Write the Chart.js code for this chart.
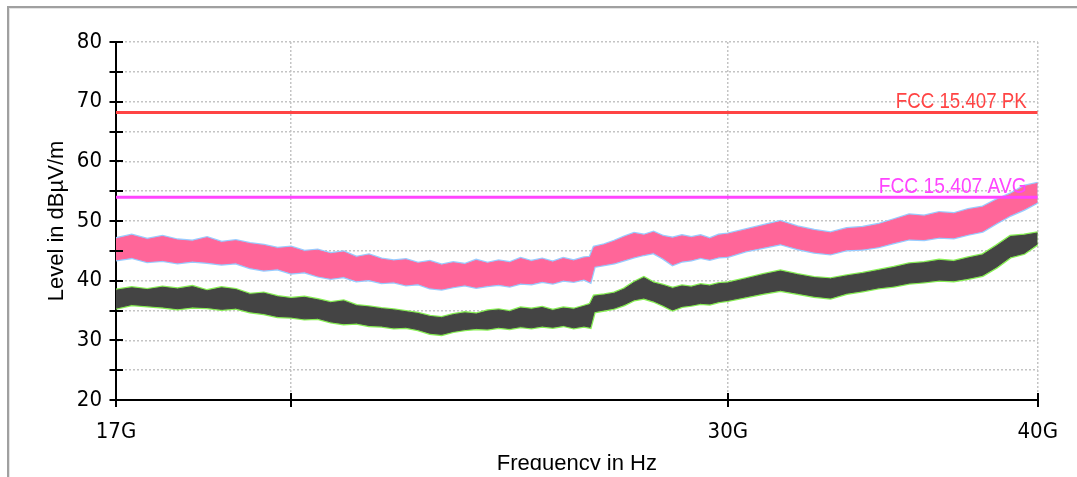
<!DOCTYPE html>
<html>
<head>
<meta charset="utf-8">
<script src="https://cdn.jsdelivr.net/npm/chart.js@4.4.1/dist/chart.umd.min.js"></script>
<style>
  html, body { margin: 0; padding: 0; background: #fff; }
  #wrap { width: 1077px; height: 477px; }
</style>
</head>
<body>
<div id="wrap"><canvas id="emiChart" width="1077" height="477"></canvas></div>
<script>
// frequency points in GHz
const freqGHz = [
  17.00, 17.25, 17.50, 17.75, 18.00, 18.25, 18.50, 18.75, 19.00, 19.25,
  19.50, 19.75, 20.00, 20.25, 20.50, 20.75, 21.00, 21.25, 21.50, 21.75,
  22.00, 22.25, 22.50, 22.75, 23.00, 23.25, 23.50, 23.75, 24.00, 24.25,
  24.50, 24.75, 25.00, 25.25, 25.50, 25.75, 26.00, 26.25, 26.40, 26.50,
  26.75, 27.00, 27.25, 27.50, 27.75, 28.00, 28.25, 28.50, 28.75, 29.00,
  29.25, 29.50, 29.75, 30.00, 30.5, 31.0, 31.5, 32.0, 32.5, 33.0,
  33.5, 34.0, 34.5, 35.0, 35.5, 36.0, 36.5, 37.0, 37.5, 38.0,
  38.5, 39.0, 39.5, 40.0
];

// peak trace, upper / lower edge of the noise band (dBuV/m)
const peakHigh = [
  47.0, 47.6, 46.9, 47.4, 46.8, 46.6, 47.2, 46.4, 46.7, 46.2,
  45.9, 45.4, 45.6, 44.9, 45.1, 44.5, 44.8, 43.9, 44.3, 43.6,
  43.3, 43.5, 42.9, 43.2, 42.6, 43.0, 42.7, 43.4, 42.9, 43.3,
  43.0, 43.7, 43.2, 43.6, 43.1, 43.7, 43.3, 43.8, 43.9, 45.6,
  46.0, 46.6, 47.3, 47.9, 47.6, 48.1, 47.4, 47.1, 47.5, 47.2,
  47.5, 47.0, 47.6, 47.8, 48.5, 49.2, 49.9, 49.0, 48.4, 48.0,
  48.7, 48.9, 49.4, 50.2, 51.0, 50.8, 51.4, 51.2, 51.9, 52.3,
  53.5, 54.5, 55.8, 56.3
];
const peakLow = [
  43.5, 43.9, 43.2, 43.4, 43.0, 43.3, 43.1, 42.8, 43.0, 42.2,
  41.8, 42.0, 41.3, 41.5, 40.8, 40.4, 40.7, 40.0, 40.2, 39.7,
  39.8, 39.3, 39.5, 38.8, 38.6, 39.0, 39.3, 38.9, 39.2, 39.4,
  39.1, 39.6, 39.5, 39.9, 39.6, 40.1, 39.9, 40.3, 39.8, 42.4,
  42.7, 43.0, 43.5, 44.0, 44.4, 44.7, 43.8, 42.7, 43.3, 43.5,
  43.9, 43.6, 44.0, 44.1, 45.0, 45.6, 46.2, 45.4, 44.8, 44.5,
  45.2, 45.3, 45.7, 46.4, 47.0, 46.9, 47.3, 47.2, 47.8, 48.3,
  49.7, 51.0, 52.0, 53.2
];

// average trace, upper / lower edge
const avgHigh = [
  38.4, 38.8, 38.5, 38.9, 38.6, 39.0, 38.3, 38.8, 38.5, 37.7,
  37.9, 37.3, 37.0, 37.2, 36.8, 36.3, 36.6, 35.8, 35.6, 35.3,
  35.1, 34.8, 34.5, 34.0, 33.8, 34.3, 34.6, 34.4, 34.9, 35.1,
  34.8, 35.4, 35.2, 35.5, 35.0, 35.4, 35.2, 35.7, 36.0, 37.4,
  37.6, 37.9, 38.6, 39.7, 40.5, 39.6, 39.2, 38.7, 39.1, 38.9,
  39.3, 39.1, 39.5, 39.6, 40.3, 41.0, 41.6, 41.0, 40.5, 40.3,
  40.8, 41.2, 41.7, 42.2, 42.8, 43.0, 43.4, 43.2, 43.8, 44.3,
  45.8, 47.4, 47.6, 48.0
];
const avgLow = [
  35.4, 36.0, 35.8, 35.6, 35.3, 35.6, 35.5, 35.2, 35.4, 34.8,
  34.5, 34.0, 33.9, 33.6, 33.7, 33.1, 32.8, 32.9, 32.5, 32.4,
  32.1, 32.2, 31.8, 31.2, 31.0, 31.5, 31.8, 32.0, 31.9, 32.2,
  32.0, 32.3, 32.1, 32.4, 32.2, 32.5, 32.1, 32.4, 32.2, 34.8,
  35.1, 35.4, 36.0, 36.8, 37.1, 36.6, 35.9, 35.1, 35.7, 35.9,
  36.2, 36.1, 36.5, 36.7, 37.3, 37.9, 38.4, 37.9, 37.4, 37.1,
  37.9, 38.3, 38.8, 39.1, 39.6, 39.8, 40.1, 40.0, 40.4, 40.9,
  42.3, 44.0, 44.6, 46.2
];

// limit lines
const limitNames = ['FCC 15.407 PK', 'FCC 15.407 AVG'];
const limitValues = [68.2, 54.0];

// axes
const xTicks = [17, 20, 30, 40];
const xTickLabels = ['17G', '', '30G', '40G'];
const yMin = 20, yMax = 80, yStep = 5;

const narrow = "'Liberation Sans Narrow','Arial Narrow','DejaVu Sans Condensed','Liberation Sans',sans-serif";
const regular = "'Liberation Sans',Arial,sans-serif";

function pts(ys) {
  return freqGHz.map((f, i) => ({ x: f, y: ys[i] }));
}
function flat(v) {
  return [{ x: freqGHz[0], y: v }, { x: freqGHz[freqGHz.length - 1], y: v }];
}
function band(ys, color, width, fill) {
  return {
    data: pts(ys),
    borderColor: color,
    backgroundColor: color,
    borderWidth: width,
    fill: fill,
    pointRadius: 0,
    tension: 0
  };
}

const limitColors = ['#ff4444', '#ff44ff'];
const labelWidths = [131, 148];

const framePlugin = {
  id: 'frame',
  beforeDraw(chart) {
    const ctx = chart.ctx;
    ctx.save();
    ctx.fillStyle = '#fff';
    ctx.fillRect(0, 0, chart.width, chart.height);
    ctx.restore();
  },
  afterDatasetsDraw(chart) {
    const ctx = chart.ctx;
    const y = chart.scales.y;
    const area = chart.chartArea;
    limitValues.forEach((v, i) => {
      ctx.save();
      ctx.font = '22px ' + regular;
      ctx.textAlign = 'right';
      ctx.textBaseline = 'alphabetic';
      ctx.fillStyle = limitColors[i];
      const w = ctx.measureText(limitNames[i]).width;
      const k = Math.min(1, labelWidths[i] / w);
      ctx.translate(area.right - 11, y.getPixelForValue(v) - 4);
      ctx.scale(k, 1);
      ctx.fillText(limitNames[i], 0, 0);
      ctx.restore();
    });
  },
  afterDraw(chart) {
    const ctx = chart.ctx;
    const xs = chart.scales.x, ys = chart.scales.y;
    const area = chart.chartArea;
    ctx.save();
    // title clipped at the bottom like the original window
    ctx.fillStyle = '#fff';
    ctx.fillRect(9, 470, chart.width, 10);
    // window frame
    ctx.fillStyle = '#a0a0a0';
    ctx.fillRect(7, 6, chart.width, 2);
    ctx.fillRect(7, 6, 2, chart.height);
    ctx.fillStyle = '#e4e4e4';
    ctx.fillRect(9, 8, chart.width, 1);
    ctx.fillRect(9, 8, 1, chart.height);
    // tick marks crossing the axes
    ctx.strokeStyle = '#000';
    ctx.lineWidth = 2;
    ctx.beginPath();
    for (let v = yMin; v <= yMax; v += yStep) {
      const py = Math.round(ys.getPixelForValue(v));
      ctx.moveTo(area.left - 6.5, py);
      ctx.lineTo(area.left + 7, py);
    }
    xTicks.forEach(v => {
      const px = Math.round(xs.getPixelForValue(v));
      ctx.moveTo(px, area.bottom - 7);
      ctx.lineTo(px, area.bottom + 7);
    });
    ctx.stroke();
    ctx.restore();
  }
};

new Chart(document.getElementById('emiChart'), {
  type: 'line',
  data: {
    datasets: [
      { data: flat(limitValues[0]), borderColor: limitColors[0], borderWidth: 3, pointRadius: 0, fill: false },
      { data: flat(limitValues[1]), borderColor: limitColors[1], borderWidth: 3, pointRadius: 0, fill: false },
      band(peakHigh, '#ff6699', 1, '+1'),
      band(peakLow, '#ff6699', 1, false),
      band(peakHigh, '#99ccff', 3.5, '+1'),
      band(peakLow, '#99ccff', 3.5, false),
      band(avgHigh, '#444444', 1, '+1'),
      band(avgLow, '#444444', 1, false),
      band(avgHigh, '#88ee55', 3.5, '+1'),
      band(avgLow, '#88ee55', 3.5, false)
    ]
  },
  options: {
    responsive: false,
    animation: false,
    layout: { padding: { left: 0, top: 42, right: 35, bottom: 0 } },
    plugins: { legend: { display: false }, tooltip: { enabled: false } },
    scales: {
      x: {
        type: 'logarithmic',
        min: 17,
        max: 40,
        afterBuildTicks: s => { s.ticks = xTicks.map(v => ({ value: v })); },
        afterFit: s => { s.height = 77; },
        ticks: {
          autoSkip: false,
          maxRotation: 0,
          padding: 19,
          color: '#000',
          font: { family: narrow, size: 22 },
          callback: (v) => xTickLabels[xTicks.indexOf(v)]
        },
        grid: { color: '#c4c4c4', lineWidth: 1.5, drawTicks: false },
        border: { display: true, color: '#000', width: 2, dash: [2, 2] },
        title: {
          display: true,
          text: 'Frequency in Hz',
          color: '#000',
          font: { family: regular, size: 22 },
          padding: { top: 0, bottom: 0 }
        }
      },
      y: {
        min: yMin,
        max: yMax,
        afterFit: s => { s.width = 116; },
        ticks: {
          stepSize: yStep,
          padding: 14,
          color: '#000',
          font: { family: narrow, size: 22 },
          callback: v => (v % 10 === 0 ? String(v) : '')
        },
        grid: { color: '#c4c4c4', lineWidth: 1.5, drawTicks: false },
        border: { display: true, color: '#000', width: 2, dash: [2, 2] },
        title: {
          display: true,
          text: 'Level in dBµV/m',
          color: '#000',
          font: { family: regular, size: 22 },
          padding: { top: 44, bottom: 0 }
        }
      }
    }
  },
  plugins: [framePlugin]
});
</script>
</body>
</html>
